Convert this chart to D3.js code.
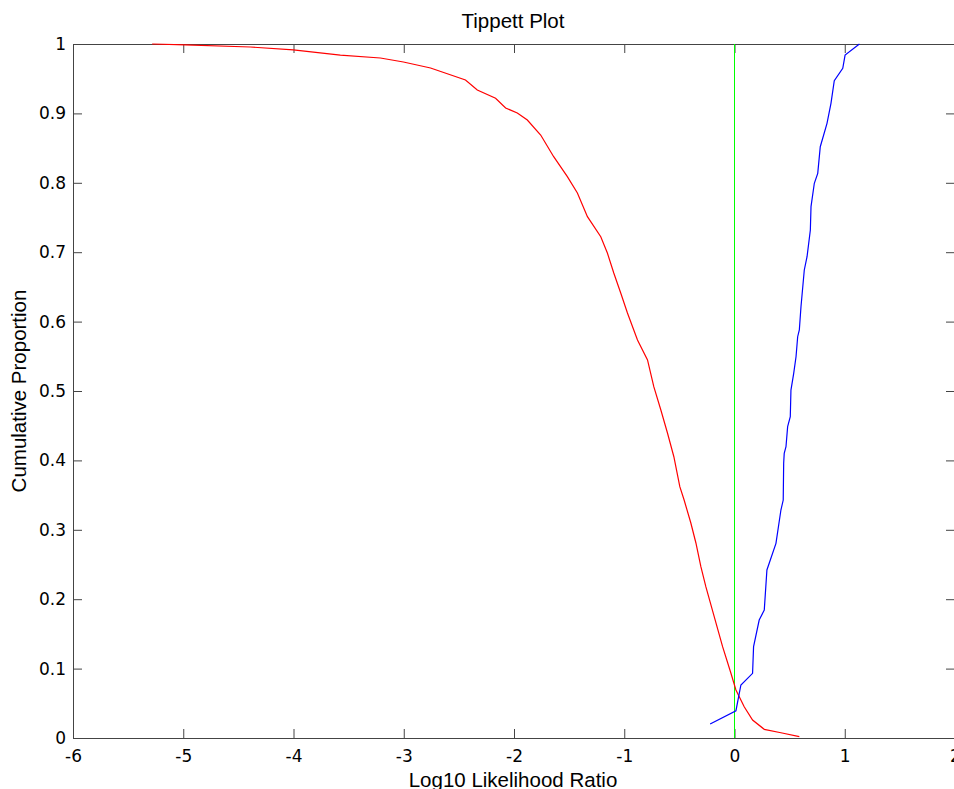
<!DOCTYPE html>
<html>
<head>
<meta charset="utf-8">
<script src="https://cdn.jsdelivr.net/npm/d3@7"></script>
<style>
  html, body { margin: 0; padding: 0; background: #fff; overflow: hidden; }
  svg text { font-family: "Liberation Sans", Arial, sans-serif; fill: #000; }
  svg .tick text { font-family: "DejaVu Sans", sans-serif; }
</style>
</head>
<body>
<div id="chart"></div>
<script>
// Red curve: proportion of non-target LRs above threshold
const redX = [-5.282, -4.983, -4.392, -4.002, -3.575, -3.212, -3.003, -2.757, -2.44, -2.333, -2.167, -2.076, -1.97, -1.879, -1.758, -1.64, -1.516, -1.425, -1.334, -1.213, -1.153, -1.095, -1.032, -0.971, -0.88, -0.789, -0.732, -0.668, -0.608, -0.55, -0.496, -0.457, -0.396, -0.35, -0.305, -0.26, -0.184, -0.108, -0.033, 0.013, 0.088, 0.164, 0.27, 0.421, 0.588];
const redY = [1.0, 0.9986, 0.9957, 0.9914, 0.9841, 0.9798, 0.9741, 0.9654, 0.9481, 0.9337, 0.9218, 0.9078, 0.9006, 0.8905, 0.8689, 0.8376, 0.8088, 0.7853, 0.7512, 0.7223, 0.6988, 0.67, 0.6412, 0.6124, 0.5735, 0.5447, 0.5062, 0.4726, 0.4395, 0.4053, 0.3621, 0.3429, 0.3098, 0.281, 0.2468, 0.218, 0.1748, 0.1316, 0.0937, 0.0692, 0.0451, 0.0259, 0.0125, 0.0076, 0.0019];

// Blue curve: proportion of target LRs below threshold
const blueX = [-0.221, 0.013, 0.058, 0.164, 0.173, 0.224, 0.27, 0.294, 0.376, 0.421, 0.442, 0.446, 0.451, 0.467, 0.482, 0.506, 0.512, 0.537, 0.558, 0.573, 0.588, 0.603, 0.633, 0.658, 0.688, 0.694, 0.724, 0.755, 0.778, 0.839, 0.875, 0.905, 0.982, 1.003, 1.133];
const blueY = [0.0202, 0.0393, 0.0764, 0.0932, 0.1316, 0.17, 0.1844, 0.2421, 0.2805, 0.3285, 0.3429, 0.3958, 0.4101, 0.4197, 0.4486, 0.463, 0.5014, 0.5255, 0.5494, 0.5782, 0.5879, 0.6215, 0.6744, 0.6935, 0.732, 0.7656, 0.7993, 0.8136, 0.852, 0.8857, 0.9145, 0.9471, 0.9649, 0.9841, 1.0];

const xTicks = [-6, -5, -4, -3, -2, -1, 0, 1, 2];
const yTicks = [0, 0.1, 0.2, 0.3, 0.4, 0.5, 0.6, 0.7, 0.8, 0.9, 1];
const thresholdX = [0, 0];
const thresholdY = [0, 1];

const width = 954, height = 789;
const margin = { top: 44, right: 0, bottom: 51, left: 73 };
const innerW = 882, innerH = height - margin.top - margin.bottom;

const svg = d3.select('#chart').append('svg')
  .attr('width', width)
  .attr('height', height);

const g = svg.append('g')
  .attr('transform', `translate(${margin.left},${margin.top})`);

const x = d3.scaleLinear().domain([-6, 2]).range([0, innerW]);
const y = d3.scaleLinear().domain([0, 1]).range([innerH, 0]);

const axisColor = '#444';
const tickLen = 9;
const fmt = d => String(d);

// Bottom axis with labels, ticks pointing inward
g.append('g')
  .attr('transform', `translate(0,${innerH})`)
  .call(d3.axisBottom(x).tickValues(xTicks).tickFormat(fmt).tickSizeInner(-tickLen).tickSizeOuter(0).tickPadding(12))
  .call(a => a.select('.domain').attr('stroke', axisColor))
  .call(a => a.selectAll('line').attr('stroke', axisColor))
  .call(a => a.selectAll('text').style('font-size', '17px'));

// Top axis, ticks only
g.append('g')
  .call(d3.axisTop(x).tickValues(xTicks).tickFormat('').tickSizeInner(-tickLen).tickSizeOuter(0))
  .call(a => a.select('.domain').attr('stroke', axisColor))
  .call(a => a.selectAll('line').attr('stroke', axisColor));

// Left axis with labels
g.append('g')
  .call(d3.axisLeft(y).tickValues(yTicks).tickFormat(fmt).tickSizeInner(-tickLen).tickSizeOuter(0).tickPadding(7))
  .call(a => a.select('.domain').attr('stroke', axisColor))
  .call(a => a.selectAll('line').attr('stroke', axisColor))
  .call(a => a.selectAll('text').style('font-size', '17px'));

// Right axis, ticks only
g.append('g')
  .attr('transform', `translate(${innerW},0)`)
  .call(d3.axisRight(y).tickValues(yTicks).tickFormat('').tickSizeInner(-tickLen).tickSizeOuter(0))
  .call(a => a.select('.domain').attr('stroke', axisColor))
  .call(a => a.selectAll('line').attr('stroke', axisColor));

const line = d3.line().x(d => x(d[0])).y(d => y(d[1]));

// Green threshold line at log LR = 0
g.append('path')
  .datum(d3.zip(thresholdX, thresholdY))
  .attr('fill', 'none')
  .attr('stroke', '#00ff00')
  .attr('stroke-width', 1)
  .attr('d', line);

g.append('path')
  .datum(d3.zip(redX, redY))
  .attr('fill', 'none')
  .attr('stroke', '#ff0000')
  .attr('stroke-width', 1.2)
  .attr('d', line);

g.append('path')
  .datum(d3.zip(blueX, blueY))
  .attr('fill', 'none')
  .attr('stroke', '#0000ff')
  .attr('stroke-width', 1.2)
  .attr('d', line);

// Titles
svg.append('text')
  .attr('x', 513).attr('y', 28)
  .attr('text-anchor', 'middle')
  .style('font-size', '20.5px')
  .text('Tippett Plot');

svg.append('text')
  .attr('x', 513).attr('y', 787)
  .attr('text-anchor', 'middle')
  .style('font-size', '20.5px')
  .text('Log10 Likelihood Ratio');

svg.append('text')
  .attr('transform', `translate(26,${margin.top + innerH / 2}) rotate(-90)`)
  .attr('text-anchor', 'middle')
  .style('font-size', '20.5px')
  .text('Cumulative Proportion');
</script>
</body>
</html>
